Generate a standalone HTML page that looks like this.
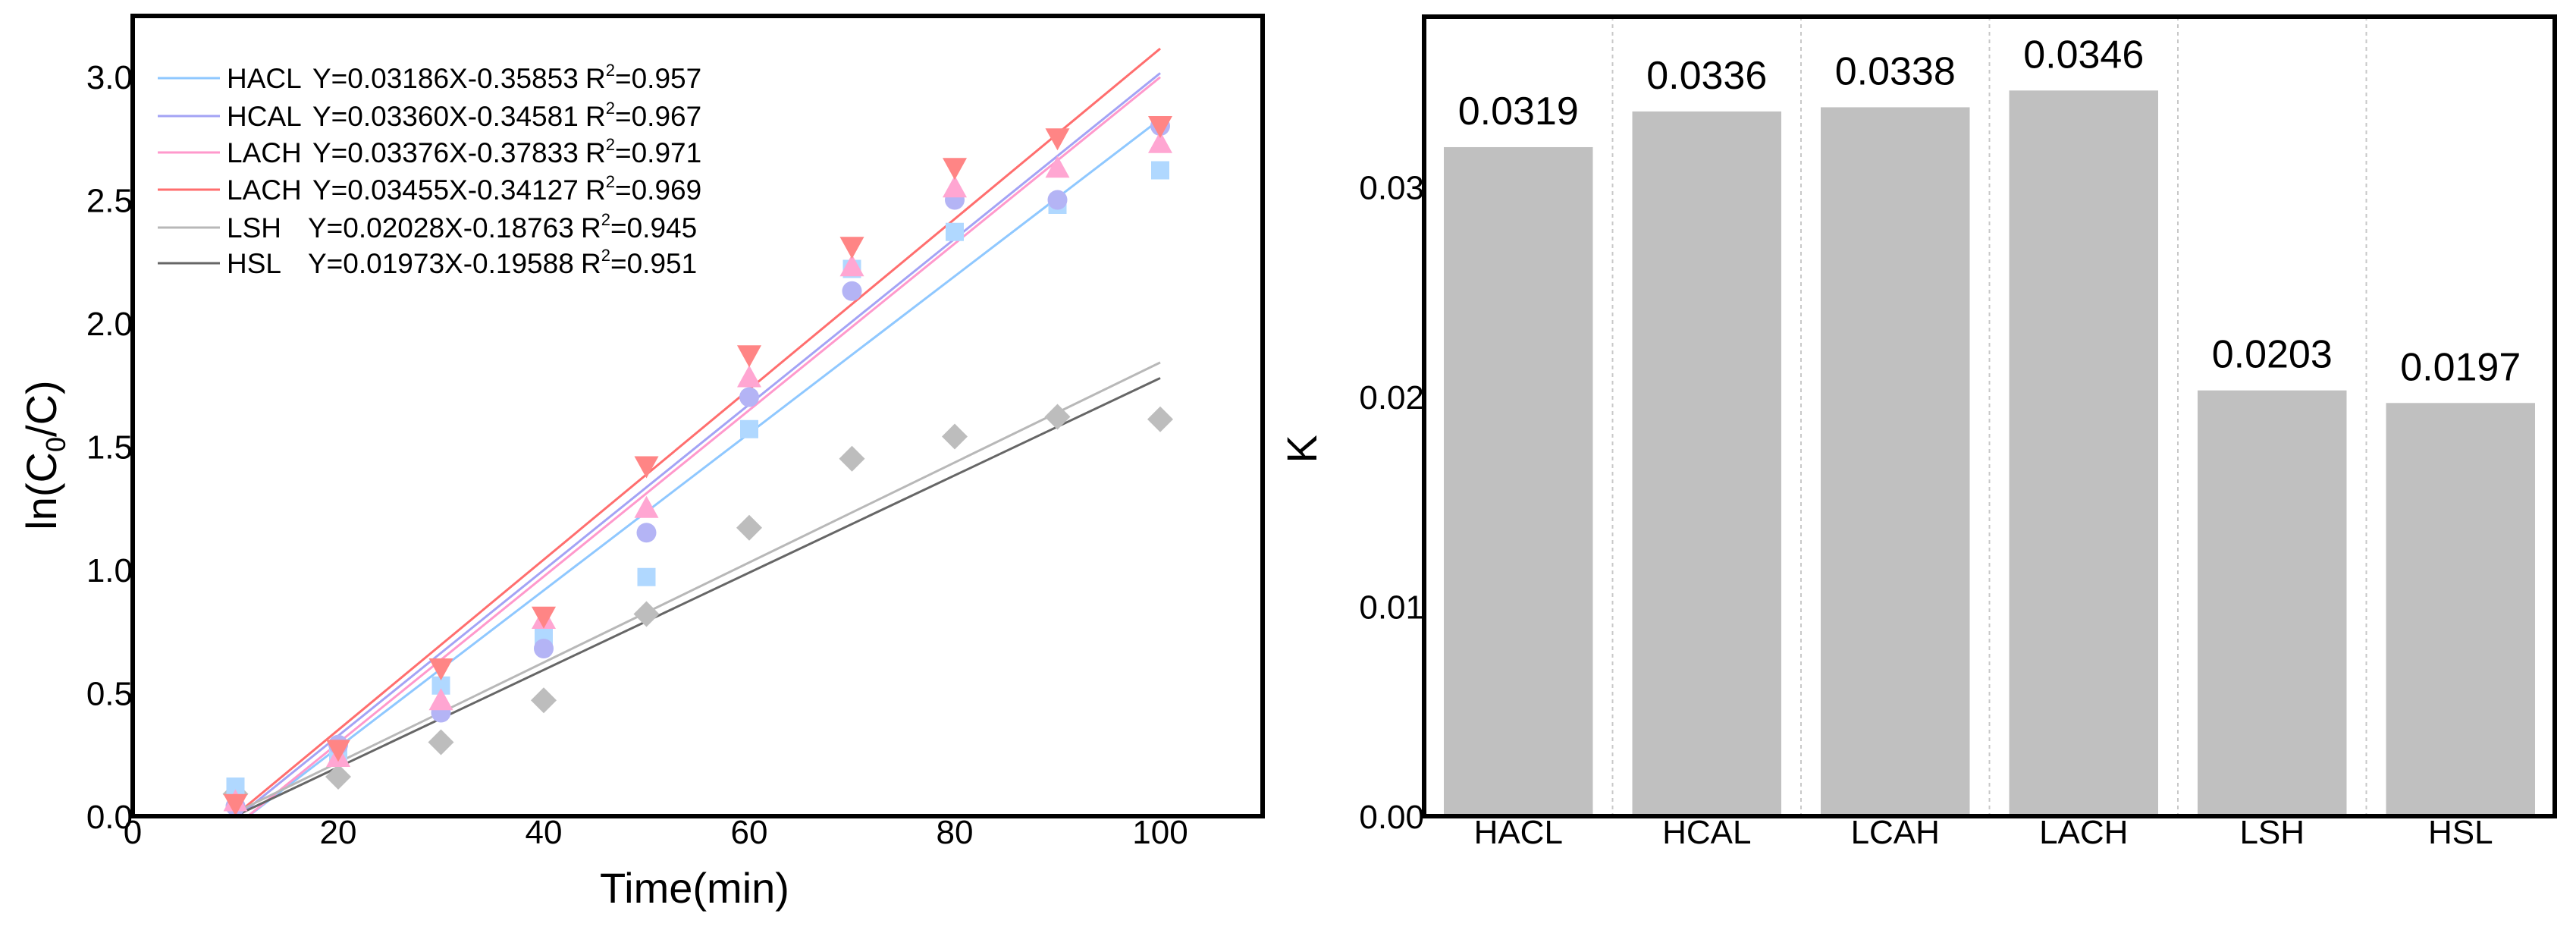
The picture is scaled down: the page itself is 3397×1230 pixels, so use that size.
<!DOCTYPE html>
<html><head><meta charset="utf-8">
<style>
html,body{margin:0;padding:0;background:#fff;}
svg{display:block;font-family:"Liberation Sans",Arial,sans-serif;}
</style></head>
<body>
<svg id="fig" width="3397" height="1230" viewBox="0 0 3397 1230" xmlns="http://www.w3.org/2000/svg">
  <rect width="3397" height="1230" fill="#fff"/>
  <g id="left"></g>
  <g id="right"></g>
</svg>
<script>
// ---- Left chart data ----
const times = [10,20,30,40,50,60,70,80,90,100];
const seriesNames = ["HACL","HCAL","LCAH","LACH","LSH"];
const hacl = [0.12,0.25,0.53,0.73,0.97,1.57,2.22,2.37,2.48,2.62];
const hcal = [0.04,0.29,0.42,0.68,1.15,1.70,2.13,2.50,2.50,2.80];
const lcah = [0.06,0.24,0.47,0.80,1.25,1.78,2.23,2.55,2.63,2.73];
const lach = [0.05,0.27,0.60,0.81,1.42,1.87,2.31,2.63,2.75,2.80];
const lsh  = [0.09,0.16,0.30,0.47,0.82,1.17,1.45,1.54,1.62,1.61];
const fitNames = ["HACL","HCAL","LACH","LACH","LSH","HSL"];
const fitSlopes = [0.03186,0.03360,0.03376,0.03455,0.02028,0.01973];
const fitIntercepts = [-0.35853,-0.34581,-0.37833,-0.34127,-0.18763,-0.19588];
const fitEq = ["Y=0.03186X-0.35853","Y=0.03360X-0.34581","Y=0.03376X-0.37833","Y=0.03455X-0.34127","Y=0.02028X-0.18763","Y=0.01973X-0.19588"];
const fitR2 = ["0.957","0.967","0.971","0.969","0.945","0.951"];
const xTicks = [0,20,40,60,80,100];
const yTicks = [0.0,0.5,1.0,1.5,2.0,2.5,3.0];
// ---- Right chart data ----
const cats = ["HACL","HCAL","LCAH","LACH","LSH","HSL"];
const kVals = [0.0319,0.0336,0.0338,0.0346,0.0203,0.0197];
const kLabels = ["0.0319","0.0336","0.0338","0.0346","0.0203","0.0197"];
const kTicks = [0.00,0.01,0.02,0.03];
const kTickLabels = ["0.00","0.01","0.02","0.03"];

const NS="http://www.w3.org/2000/svg";
function mk(tag, attrs, parent){const e=document.createElementNS(NS,tag);for(const k in attrs)e.setAttribute(k,attrs[k]);parent.appendChild(e);return e;}

// Left axes
const L={x0:175,x1:1665,y0:1076,y1:21};
const sx=v=>L.x0+v*13.55;
const sy=v=>L.y0-v*325;
const gl=document.getElementById('left');
const defs=mk('defs',{},document.getElementById('fig'));
const cp=mk('clipPath',{id:'clipL'},defs);
mk('rect',{x:L.x0,y:L.y1,width:L.x1-L.x0,height:L.y0-L.y1},cp);

const lineColors=["#8fc8ff","#a3a3f5","#ff99cc","#ff6e6e","#b8b8b8","#666666"];
const gLines=mk('g',{'clip-path':'url(#clipL)'},gl);


for(let i=0;i<fitSlopes.length;i++){
  const xa=10, xb=100;
  const ln=mk('line',{x1:sx(xa),y1:sy(fitSlopes[i]*xa+fitIntercepts[i]),x2:sx(xb),y2:sy(fitSlopes[i]*xb+fitIntercepts[i]),stroke:lineColors[i],'stroke-width':3},gLines);
  
  
}
// markers
const gM=mk('g',{},gl);


function marker(type,x,y,color,name){
  let e;
  if(type==='sq') e=mk('rect',{x:x-12,y:y-12,width:24,height:24,fill:color},gM);
  else if(type==='ci') e=mk('circle',{cx:x,cy:y,r:13,fill:color},gM);
  else if(type==='up') e=mk('polygon',{points:`${x},${y-16} ${x+16},${y+13} ${x-16},${y+13}`,fill:color},gM);
  else if(type==='dn') e=mk('polygon',{points:`${x},${y+16} ${x+16},${y-13} ${x-16},${y-13}`,fill:color},gM);
  else e=mk('polygon',{points:`${x},${y-17} ${x+17},${y} ${x},${y+17} ${x-17},${y}`,fill:color},gM);
  
  
}
const sets=[[lsh,'di','#bdbdbd','lsh'],[hacl,'sq','#b0d8ff','hacl'],[hcal,'ci','#b4b4f5','hcal'],[lcah,'up','#ffa6d2','lcah'],[lach,'dn','#ff8585','lach']];
sets.forEach(s=>{times.forEach((t,j)=>marker(s[1],sx(t),sy(s[0][j]),s[2],'point-'+s[3]+'-'+t));});

// frame
const fr=mk('rect',{x:L.x0,y:L.y1,width:L.x1-L.x0,height:L.y0-L.y1,fill:'none',stroke:'#000','stroke-width':6},gl);


// ticks
xTicks.forEach(v=>{const t=mk('text',{x:sx(v),y:1112,'font-size':44,'text-anchor':'middle',fill:'#000'},gl);t.textContent=v;
  
  });
yTicks.forEach(v=>{const t=mk('text',{x:L.x0,y:sy(v)+16,'font-size':44,'text-anchor':'end',fill:'#000'},gl);t.textContent=v.toFixed(1);
  
  });
// axis titles
const xt=mk('text',{x:916,y:1190,'font-size':56,'text-anchor':'middle'},gl);xt.textContent='Time(min)';


const yt=mk('text',{x:0,y:0,'font-size':56,'text-anchor':'middle',transform:'translate(74,600) rotate(-90)'},gl);
yt.innerHTML='ln(C<tspan font-size="36" dy="12">0</tspan><tspan dy="-12">/C)</tspan>';


// legend
const rowsY=[103,153,201,250,300,347];
const gLeg=mk('g',{},gl);


fitNames.forEach((n,i)=>{
  const y=rowsY[i];
  const l=mk('line',{x1:208,y1:y,x2:290,y2:y,stroke:lineColors[i],'stroke-width':3},gLeg);
  
  
  const short=(n==='LSH'||n==='HSL');
  const t1=mk('text',{x:299,y:y+13,'font-size':37},gLeg);t1.textContent=n;
  
  
  const t2=mk('text',{x:short?406:412,y:y+13,'font-size':37},gLeg);t2.textContent=fitEq[i];
  
  
  const t3=mk('text',{x:short?766:772,y:y+13,'font-size':37},gLeg);
  t3.innerHTML='R<tspan font-size="22" dy="-16">2</tspan><tspan dy="16">='+fitR2[i]+'</tspan>';
  
  
});

// Right chart
const R={x0:1878,x1:3369,y0:1076,y1:22};
const ky=v=>R.y0-v*27650;
const gr=document.getElementById('right');
const slot=(R.x1-R.x0)/cats.length;
for(let i=1;i<cats.length;i++){
  const d=mk('line',{x1:R.x0+slot*i,y1:R.y1,x2:R.x0+slot*i,y2:R.y0,stroke:'#c8c8c8','stroke-width':2,'stroke-dasharray':'5,5'},gr);
  
  
}
cats.forEach((c,i)=>{
  const bx=R.x0+slot*i+26, bw=slot-52;
  const b=mk('rect',{x:bx,y:ky(kVals[i]),width:bw,height:R.y0-ky(kVals[i]),fill:'#c0c0c0'},gr);
  
  
  const vl=mk('text',{x:bx+bw/2,y:ky(kVals[i])-30,'font-size':52,'text-anchor':'middle'},gr);vl.textContent=kLabels[i];
  
  
  const cl=mk('text',{x:bx+bw/2,y:1112,'font-size':44,'text-anchor':'middle'},gr);cl.textContent=c;
  
  
});
const fr2=mk('rect',{x:R.x0,y:R.y1,width:R.x1-R.x0,height:R.y0-R.y1,fill:'none',stroke:'#000','stroke-width':6},gr);


kTicks.forEach((v,i)=>{const t=mk('text',{x:R.x0,y:ky(v)+16,'font-size':44,'text-anchor':'end'},gr);t.textContent=kTickLabels[i];
  
  });
const kt=mk('text',{x:0,y:0,'font-size':56,'text-anchor':'middle',transform:'translate(1736,592) rotate(-90)'},gr);kt.textContent='K';


</script>
</body></html>
